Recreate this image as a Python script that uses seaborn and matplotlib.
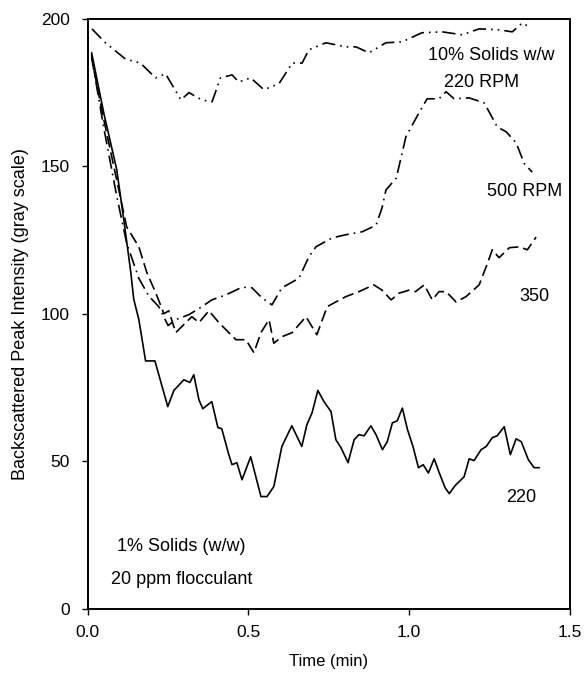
import matplotlib
matplotlib.use('Agg')
import matplotlib.pyplot as plt
import pandas as pd
import seaborn as sns

sns.set_theme(style="ticks")
plt.rcParams['font.family'] = ['Liberation Sans', 'DejaVu Sans']
plt.rcParams['text.color'] = 'black'
plt.rcParams['axes.labelcolor'] = 'black'

# 1% solids, 220 RPM (solid line)
t_220 = [0.012, 0.05, 0.09, 0.112, 0.134, 0.143, 0.159, 0.18, 0.209, 0.249, 0.268, 0.299, 0.318, 0.33,
         0.346, 0.358, 0.386, 0.405, 0.417, 0.439, 0.449, 0.464, 0.48, 0.507, 0.539, 0.558, 0.579, 0.604,
         0.635, 0.666, 0.682, 0.698, 0.716, 0.735, 0.757, 0.772, 0.788, 0.81, 0.829, 0.844, 0.86, 0.881,
         0.897, 0.917, 0.932, 0.948, 0.963, 0.979, 0.995, 1.012, 1.029, 1.044, 1.06, 1.078, 1.094, 1.112,
         1.125, 1.143, 1.171, 1.187, 1.202, 1.224, 1.24, 1.259, 1.274, 1.296, 1.315, 1.333, 1.349, 1.371,
         1.389, 1.405]
v_220 = [188.5, 168, 149, 132, 114, 105, 98, 84, 84, 68.5, 74, 77.6, 76.7, 79.3,
         70.8, 67.8, 70.2, 61.4, 61, 52.2, 48.8, 49.5, 43.7, 51.5, 38, 38, 41.4, 55,
         62, 55, 62.4, 66.4, 74, 70.2, 66.8, 57.3, 54.6, 49.5, 57.3, 59, 58.6, 62,
         59, 53.9, 56.6, 63, 63.7, 68, 60.7, 55, 47.8, 48.8, 46, 50.8, 46, 41,
         39, 41.7, 44.7, 50.8, 50.2, 53.9, 55, 58, 58.6, 61.7, 52.2, 57.6, 56.6, 50.5,
         47.8, 47.8]

# 1% solids, 350 RPM (dashed)
t_350 = [0.012, 0.019, 0.05, 0.09, 0.121, 0.159, 0.184, 0.212, 0.237, 0.252, 0.274, 0.305, 0.324,
         0.346, 0.377, 0.408, 0.439, 0.461, 0.492, 0.517, 0.539, 0.564, 0.579, 0.604, 0.636, 0.679,
         0.713, 0.745, 0.772, 0.803, 0.844, 0.89, 0.916, 0.944, 0.969, 1.0, 1.02, 1.047, 1.072, 1.093,
         1.115, 1.146, 1.177, 1.218, 1.24, 1.259, 1.28, 1.312, 1.343, 1.368, 1.395]
v_350 = [188, 182.7, 165.8, 145.4, 129.5, 122.7, 113.9, 107, 100, 101, 93.6, 97, 99,
         97, 101, 97, 93.6, 91.2, 91.2, 86.8, 93.6, 98, 90, 92.2, 93.6, 99,
         92.9, 102.4, 104, 105.8, 107.5, 109.8, 108, 104.7, 107, 108, 107.5, 109.8, 104.7, 107.5,
         107.5, 104, 105.8, 109.8, 116, 121.7, 119, 122.4, 122.7, 121.7, 126]

# 1% solids, 500 RPM (dash-dot)
t_500 = [0.012, 0.05, 0.09, 0.121, 0.159, 0.19, 0.221, 0.25, 0.274, 0.315, 0.355, 0.386, 0.43, 0.48,
         0.511, 0.542, 0.573, 0.604, 0.657, 0.688, 0.71, 0.76, 0.803, 0.854, 0.897, 0.916, 0.928, 0.96,
         0.99, 1.03, 1.056, 1.093, 1.115, 1.14, 1.187, 1.234, 1.274, 1.302, 1.333, 1.358, 1.383]
v_500 = [187, 163, 140, 124, 112, 106, 102.4, 96, 98, 99.7, 102.4, 104.7, 106.4, 109,
         108.8, 105.4, 103, 108.8, 112, 119.3, 122.7, 125.7, 126.8, 127.8, 130, 136, 142, 146,
         160, 168, 172.9, 172.9, 175.3, 172.9, 173.2, 171.5, 163.4, 161.7, 158, 151, 148]

# 10% solids, 220 RPM (dash-dot-dot)
t_10pct = [0.013, 0.055, 0.117, 0.164, 0.211, 0.242, 0.29, 0.315, 0.355, 0.387, 0.413, 0.449, 0.47,
           0.507, 0.548, 0.595, 0.636, 0.667, 0.688, 0.741, 0.803, 0.835, 0.875, 0.928, 0.978, 1.04,
           1.103, 1.165, 1.218, 1.28, 1.321, 1.352, 1.374]
v_10pct = [196.6, 191.9, 186.4, 185, 180, 181.4, 172.5, 175, 172.5, 171.9, 180, 181, 178.6,
           180, 176, 178, 185, 185, 189.5, 191.9, 190.5, 190.5, 188.5, 191.9, 192.2, 195.3,
           195.6, 194.6, 196.6, 196.3, 195.6, 198.6, 197.3]

fig = plt.figure(figsize=(5.85, 6.74), dpi=100)
ax = fig.add_axes([0.150, 0.097, 0.824, 0.875])

series = [
	(t_220, v_220, '-'),
	(t_350, v_350, (0, (7, 3))),
	(t_500, v_500, (0, (8, 3, 1, 3))),
	(t_10pct, v_10pct, (0, (8, 3, 1, 3, 1, 3))),
]
for t, v, ls in series:
	df = pd.DataFrame({'Time': t, 'Intensity': v})
	sns.lineplot(data=df, x='Time', y='Intensity', ax=ax, color='black', linewidth=1.2,
	             linestyle=ls, sort=False, estimator=None)

ax.set_xlim(0, 1.5)
ax.set_ylim(0, 200)
ax.set_xticks([0.0, 0.5, 1.0, 1.5])
ax.set_xticklabels(['0.0', '0.5', '1.0', '1.5'])
ax.set_yticks([0, 50, 100, 150, 200])
for s in ax.spines.values():
	s.set_linewidth(1.4)
	s.set_color('black')
ax.tick_params(direction='out', length=4, width=1, colors='black', labelcolor='black', labelsize=12.5)
ax.tick_params(axis='y', pad=9)
ax.tick_params(axis='x', pad=8)
ax.set_xlabel('Time (min)', fontsize=12, labelpad=10, color='black')
ax.set_ylabel('Backscattered Peak Intensity (gray scale)', fontsize=13, labelpad=8, color='black')

fs = 13
ax.text(1.255, 187.5, '10% Solids w/w', fontsize=fs, ha='center', va='center', color='black')
ax.text(1.227, 178.3, '220 RPM', fontsize=fs, ha='center', va='center', color='black')
ax.text(1.358, 141.4, '500 RPM', fontsize=fs, ha='center', va='center', color='black')
ax.text(1.39, 105.8, '350', fontsize=fs, ha='center', va='center', color='black')
ax.text(1.35, 37.6, '220', fontsize=fs, ha='center', va='center', color='black')
ax.text(0.09, 21, '1% Solids (w/w)', fontsize=fs, ha='left', va='center', color='black')
ax.text(0.072, 9.8, '20 ppm flocculant', fontsize=fs, ha='left', va='center', color='black')

plt.savefig('out.png', dpi=100)
